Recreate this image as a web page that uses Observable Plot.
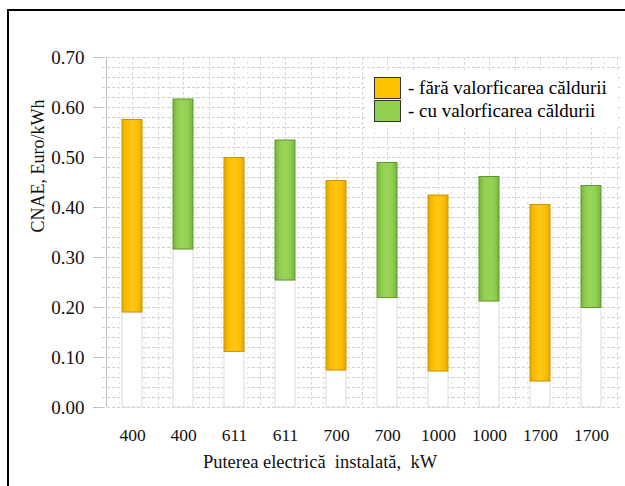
<!DOCTYPE html>
<html>
<head>
<meta charset="utf-8">
<script src="https://cdn.jsdelivr.net/npm/d3@7"></script>
<script src="https://cdn.jsdelivr.net/npm/@observablehq/plot@0.6"></script>
<style>
  html, body { margin: 0; padding: 0; background: #fff; overflow: hidden; }
  #wrap { position: relative; width: 625px; height: 486px; overflow: hidden; font-family: "Liberation Serif", "DejaVu Serif", serif; }
  #border { position: absolute; left: 7px; top: 9px; width: 700px; height: 600px; border: 2px solid #000; pointer-events: none; }
  #legend { position: absolute; left: 366px; top: 70px; width: 252px; height: 58px; background: #fff;
            font-family: "Liberation Serif", "DejaVu Serif", serif; font-size: 19px; color: #000; }
  .item { position: absolute; left: 8px; height: 22px; display: flex; align-items: center; white-space: nowrap; }
  .sw { width: 25px; height: 20px; border: 1px solid #333; margin-right: 7px; }
  svg text { font-family: "Liberation Serif", "DejaVu Serif", serif; }
</style>
</head>
<body>
<div id="wrap">
  <div id="chart"></div>
  <div id="legend"></div>
  <div id="border"></div>
</div>
<script>
// ---- data ----
const categories = ["400", "400", "611", "611", "700", "700", "1000", "1000", "1700", "1700"];
const seriesOf   = ["fara", "cu", "fara", "cu", "fara", "cu", "fara", "cu", "fara", "cu"];
const lowValues  = [0.190, 0.316, 0.111, 0.254, 0.074, 0.219, 0.072, 0.212, 0.052, 0.199];
const highValues = [0.575, 0.616, 0.499, 0.534, 0.453, 0.489, 0.424, 0.461, 0.405, 0.443];
const yTicks = [0, 0.1, 0.2, 0.3, 0.4, 0.5, 0.6, 0.7];
const seriesKeys = ["fara", "cu"];
const legendLabels = ["- fără valorficarea căldurii", "- cu valorficarea căldurii"];
const seriesColors = ["#FFC000", "#92D050"];
const yLabel = "CNAE, Euro/kWh";
const xLabel = "Puterea electrică  instalată,  kW";

// ---- derived table ----
const rows = categories.map((c, i) => ({i, cat: c, series: seriesOf[i], lo: lowValues[i], hi: highValues[i]}));
const idx = rows.map(d => d.i);
const minorY = d3.range(0, 71, 2).map(v => v / 100);

const serif = "Liberation Serif, DejaVu Serif, serif";

const plot = Plot.plot({
  width: 625,
  height: 486,
  marginLeft: 102,
  marginRight: 4,
  marginTop: 57,
  marginBottom: 79,
  style: {fontFamily: serif, background: "transparent", overflow: "visible"},
  x: {type: "band", domain: idx, paddingInner: 0.6, paddingOuter: 0.3, axis: null, label: null},
  y: {domain: [0, 0.7], axis: null, label: null},
  marks: [
    // horizontal minor dashed grid
    Plot.ruleY(minorY, {stroke: "#cfcfcf", strokeDasharray: "3,2", strokeWidth: 1}),
    // vertical dashed grid at band centres and boundaries
    Plot.ruleX(idx, {x: d => d, stroke: "#d6d6d6", strokeDasharray: "3,2"}),
    Plot.ruleX(idx, {x: d => d, dx: 26, stroke: "#d6d6d6", strokeDasharray: "3,2"}),
    Plot.ruleX(idx, {x: d => d, dx: 13, stroke: "#e2e2e2", strokeDasharray: "2,3"}),
    Plot.ruleX(idx, {x: d => d, dx: -13, stroke: "#e2e2e2", strokeDasharray: "2,3"}),
    // left axis line
    Plot.ruleX(idx.slice(0, 1), {x: d => d, dx: -26, stroke: "#bfbfbf"}),
    // ghost base bars
    Plot.barY(rows, {x: "i", y1: 0, y2: "lo", fill: "#fff", stroke: "#d9d9d9", strokeWidth: 1}),
    // visible range bars
    Plot.barY(rows.filter(d => d.series === "fara"), {x: "i", y1: "lo", y2: "hi", fill: "url(#gOrange)", stroke: "#C99700", strokeWidth: 1}),
    Plot.barY(rows.filter(d => d.series === "cu"), {x: "i", y1: "lo", y2: "hi", fill: "url(#gGreen)", stroke: "#5E9A2E", strokeWidth: 1}),
    // axes
    Plot.axisY(yTicks, {label: null, tickFormat: d3.format(".2f"), tickSize: 9, tickPadding: 9, stroke: "#bfbfbf", fill: "#111", fontSize: 19, fontFamily: serif}),
    Plot.axisX(idx, {label: null, tickFormat: i => categories[i], tickSize: 0, tickPadding: 21, fill: "#111", fontSize: 17.5, fontFamily: serif}),
    // axis titles
    Plot.text([yLabel], {frameAnchor: "left", rotate: -90, dx: -64, fontSize: 18, fontFamily: serif, fill: "#111"}),
    Plot.text([xLabel], {frameAnchor: "bottom", dx: -42, dy: 60, fontSize: 18.5, fontFamily: serif, fill: "#111"})
  ]
});

// gradient defs for the cylinder-like bars
const svg = d3.select(plot);
const defs = svg.insert("defs", ":first-child");
function grad(id, edge, mid, light) {
  const g = defs.append("linearGradient").attr("id", id).attr("x1", "0").attr("x2", "1").attr("y1", "0").attr("y2", "0");
  g.append("stop").attr("offset", "0%").attr("stop-color", edge);
  g.append("stop").attr("offset", "25%").attr("stop-color", mid);
  g.append("stop").attr("offset", "50%").attr("stop-color", light);
  g.append("stop").attr("offset", "75%").attr("stop-color", mid);
  g.append("stop").attr("offset", "100%").attr("stop-color", edge);
}
grad("gOrange", "#E6A800", "#FFC000", "#FFC61A");
grad("gGreen", "#76B43C", "#92D050", "#98D45A");

document.getElementById("chart").appendChild(plot);

// legend
const legend = document.getElementById("legend");
seriesKeys.forEach((k, j) => {
  const it = document.createElement("div");
  it.className = "item";
  it.style.top = (7 + j * 23) + "px";
  const sw = document.createElement("div");
  sw.className = "sw";
  sw.style.background = seriesColors[j];
  const tx = document.createElement("span");
  tx.textContent = legendLabels[j];
  it.appendChild(sw);
  it.appendChild(tx);
  legend.appendChild(it);
});
</script>
</body>
</html>
